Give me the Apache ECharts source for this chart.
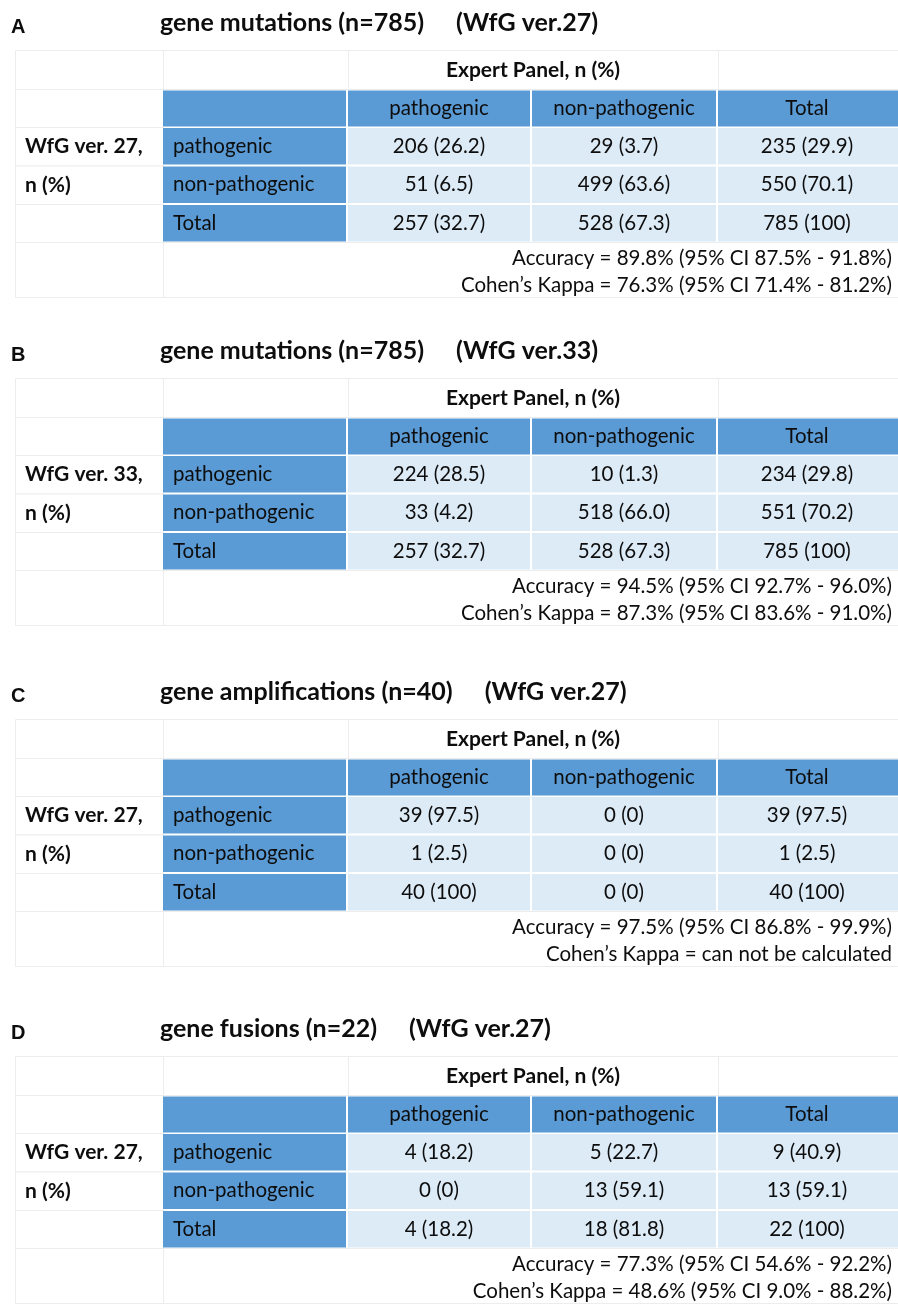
<!DOCTYPE html>
<html><head><meta charset="utf-8">
<script src="https://cdn.jsdelivr.net/npm/echarts@6/dist/echarts.min.js"></script>
<style>html,body{margin:0;padding:0;background:#fff}#c{width:898px;height:1305px}</style>
</head><body><div id="c"></div>
<script>
// ---------------- data ----------------
const panelLetters = ['A', 'B', 'C', 'D'];
const panelTitles = ['gene mutations (n=785)', 'gene mutations (n=785)', 'gene amplifications (n=40)', 'gene fusions (n=22)'];
const panelVersions = ['(WfG ver.27)', '(WfG ver.33)', '(WfG ver.27)', '(WfG ver.27)'];
const raterLabels = ['WfG ver. 27,', 'WfG ver. 33,', 'WfG ver. 27,', 'WfG ver. 27,'];
const raterUnit = 'n (%)';
const expertLabel = 'Expert Panel, n (%)';
const columnHeaders = ['pathogenic', 'non-pathogenic', 'Total'];
const rowHeaders = ['pathogenic', 'non-pathogenic', 'Total'];

const countsA = [[206, 29, 235], [51, 499, 550], [257, 528, 785]];
const percentsA = [['26.2', '3.7', '29.9'], ['6.5', '63.6', '70.1'], ['32.7', '67.3', '100']];
const countsB = [[224, 10, 234], [33, 518, 551], [257, 528, 785]];
const percentsB = [['28.5', '1.3', '29.8'], ['4.2', '66.0', '70.2'], ['32.7', '67.3', '100']];
const countsC = [[39, 0, 39], [1, 0, 1], [40, 0, 40]];
const percentsC = [['97.5', '0', '97.5'], ['2.5', '0', '2.5'], ['100', '0', '100']];
const countsD = [[4, 5, 9], [0, 13, 13], [4, 18, 22]];
const percentsD = [['18.2', '22.7', '40.9'], ['0', '59.1', '59.1'], ['18.2', '81.8', '100']];

const accuracyLines = [
  'Accuracy = 89.8% (95% CI 87.5% - 91.8%)',
  'Accuracy = 94.5% (95% CI 92.7% - 96.0%)',
  'Accuracy = 97.5% (95% CI 86.8% - 99.9%)',
  'Accuracy = 77.3% (95% CI 54.6% - 92.2%)'
];
const kappaLines = [
  'Cohen\u2019s Kappa = 76.3% (95% CI 71.4% - 81.2%)',
  'Cohen\u2019s Kappa = 87.3% (95% CI 83.6% - 91.0%)',
  'Cohen\u2019s Kappa = can not be calculated',
  'Cohen\u2019s Kappa = 48.6% (95% CI 9.0% - 88.2%)'
];

const panelCounts = [countsA, countsB, countsC, countsD];
const panelPercents = [percentsA, percentsB, percentsC, percentsD];

// ---------------- layout ----------------
const panelTop = [0, 328, 669, 1006];
const colX = [15, 163, 348, 532, 718, 898];
const rowTop = [90.5, 128, 166.5, 205];
const rowH = [36, 36.5, 36.5, 36.5];
const BLUE = '#5B9BD5', LIGHT = '#DDEBF7', GRID = '#EDEDED', INK = '#0d0d0d';
const CELL_FONT = '20.5px Lato';
const BOLD_FONT = 'bold 21px Lato';
const TITLE_FONT = 'bold 25px Lato';
const EXPERT_FONT = 'bold 21px Lato';
const LETTER_FONT = 'bold 20px "Liberation Sans"';

const mctx = document.createElement('canvas').getContext('2d');
function textWidth(t, font) { mctx.font = font; return mctx.measureText(t).width; }

function txt(text, x, y, font, align) {
  return {
    type: 'text', silent: true,
    style: { text: text, x: x, y: y, font: font, fill: INK,
      textAlign: align || 'left', textVerticalAlign: 'middle',
      align: align || 'left', verticalAlign: 'middle' }
  };
}
function rect(x, y, w, h, fill, stroke) {
  return {
    type: 'rect', silent: true,
    shape: { x: x, y: y, width: w, height: h },
    style: { fill: fill, stroke: stroke || null, lineWidth: stroke ? 1 : 0 }
  };
}

const elements = [];
panelLetters.forEach(function (letter, p) {
  const o = panelTop[p];
  // white cells with faint borders
  elements.push(rect(colX[0] + 0.5, o + 50.5, colX[1] - colX[0], 39, '#fff', GRID));
  elements.push(rect(colX[1] + 0.5, o + 50.5, colX[2] - colX[1], 39, '#fff', GRID));
  elements.push(rect(colX[2] + 0.5, o + 50.5, colX[4] - colX[2], 39, '#fff', GRID));
  elements.push(rect(colX[4] + 0.5, o + 50.5, colX[5] - colX[4], 39, '#fff', GRID));
  const bounds = [89.5, 127.5, 166, 204.5, 242.5];
  for (let r = 0; r < 4; r++) {
    elements.push(rect(colX[0] + 0.5, o + bounds[r], colX[1] - colX[0], bounds[r + 1] - bounds[r], '#fff', GRID));
  }
  elements.push(rect(colX[0] + 0.5, o + 242.5, colX[1] - colX[0], 55, '#fff', GRID));
  elements.push(rect(colX[1] + 0.5, o + 242.5, colX[5] - colX[1], 55, '#fff', GRID));

  // letter and title
  elements.push(txt(letter, 11, o + 27, LETTER_FONT, 'left'));
  elements.push(txt(panelTitles[p], 160, o + 23, TITLE_FONT, 'left'));
  elements.push(txt(panelVersions[p], 160 + textWidth(panelTitles[p], TITLE_FONT) + 32, o + 23, TITLE_FONT, 'left'));

  // expert header
  elements.push(txt(expertLabel, (colX[2] + colX[4]) / 2, o + 70, EXPERT_FONT, 'center'));

  // blue header row
  for (let c = 1; c < 5; c++) {
    elements.push(rect(colX[c], o + rowTop[0], colX[c + 1] - colX[c] - (c < 4 ? 2 : 0), rowH[0], BLUE));
  }
  columnHeaders.forEach(function (h, j) {
    elements.push(txt(h, (colX[j + 2] + colX[j + 3] - 2) / 2, o + rowTop[0] + rowH[0] / 2, CELL_FONT, 'center'));
  });

  // body rows
  const counts = panelCounts[p], pcts = panelPercents[p];
  rowHeaders.forEach(function (h, i) {
    const y0 = o + rowTop[i + 1], hh = rowH[i + 1];
    elements.push(rect(colX[1], y0, colX[2] - colX[1] - 2, hh, BLUE));
    elements.push(txt(h, colX[1] + 10, y0 + hh / 2, CELL_FONT, 'left'));
    for (let j = 0; j < 3; j++) {
      const c = j + 2;
      elements.push(rect(colX[c], y0, colX[c + 1] - colX[c] - (c < 4 ? 2 : 0), hh, LIGHT));
      elements.push(txt(counts[i][j] + ' (' + pcts[i][j] + ')', (colX[c] + colX[c + 1] - 2) / 2, y0 + hh / 2, CELL_FONT, 'center'));
    }
  });

  // rater labels
  elements.push(txt(raterLabels[p], 25, o + rowTop[1] + rowH[1] / 2, BOLD_FONT, 'left'));
  elements.push(txt(raterUnit, 25, o + rowTop[2] + rowH[2] / 2, BOLD_FONT, 'left'));

  // statistics
  elements.push(txt(accuracyLines[p], 892, o + 258, CELL_FONT, 'right'));
  elements.push(txt(kappaLines[p], 892, o + 285, CELL_FONT, 'right'));
});

const chart = echarts.init(document.getElementById('c'), null, { renderer: 'canvas' });
chart.setOption({
  animation: false,
  backgroundColor: '#ffffff',
  graphic: { elements: elements }
});
</script>
</body></html>
